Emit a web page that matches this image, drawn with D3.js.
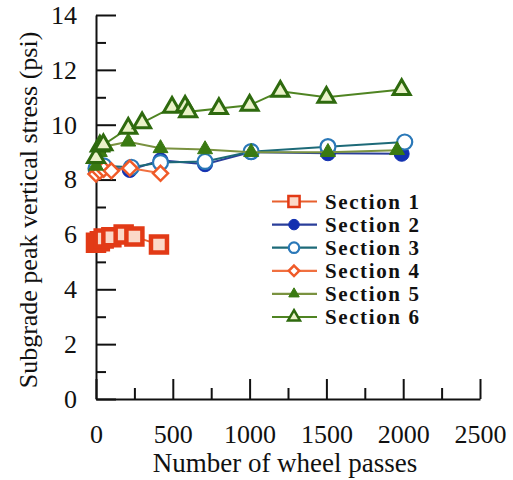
<!DOCTYPE html>
<html>
<head>
<meta charset="utf-8">
<script src="https://cdn.jsdelivr.net/npm/d3@7"></script>
<style>
  html, body { margin: 0; padding: 0; background: #fff; }
  svg { display: block; }
  text { font-family: "Liberation Serif", "Times New Roman", serif; fill: #111; }
</style>
</head>
<body>
<svg id="chart" width="513" height="480"></svg>
<script>
// ---- Data ----
const sectionNames = ["Section 1", "Section 2", "Section 3", "Section 4", "Section 5", "Section 6"];

const section1 = [[0, 5.7], [25, 5.75], [50, 5.85], [100, 5.9], [180, 6.0], [250, 5.92], [410, 5.63]];
const section2 = [[0, 8.3], [25, 8.4], [50, 8.48], [220, 8.35], [420, 8.7], [710, 8.56], [1010, 9.0], [1510, 8.96], [1990, 8.94]];
const section3 = [[0, 8.4], [50, 8.5], [230, 8.45], [420, 8.62], [710, 8.66], [1010, 9.02], [1510, 9.2], [2010, 9.37]];
const section4 = [[0, 8.2], [25, 8.3], [50, 8.38], [100, 8.32], [220, 8.42], [420, 8.23]];
const section5 = [[0, 8.5], [25, 9.0], [50, 9.2], [210, 9.38], [420, 9.14], [710, 9.1], [1010, 9.0], [1510, 9.0], [1960, 9.07]];
const section6 = [[0, 8.8], [25, 9.22], [48, 9.27], [210, 9.87], [300, 10.07], [495, 10.63], [580, 10.67], [600, 10.47], [800, 10.59], [1000, 10.71], [1200, 11.22], [1500, 11.0], [1990, 11.28]];

const xTickValues = [0, 500, 1000, 1500, 2000, 2500];
const xMinorTicks = [250, 750, 1250, 1750, 2250];
const yTickValues = [0, 2, 4, 6, 8, 10, 12, 14];
const yMinorTicks = [1, 3, 5, 7, 9, 11, 13];

const xTitle = "Number of wheel passes";
const yTitle = "Subgrade peak vertical stress (psi)";

// ---- Styles ----
const styles = [
  { marker: "square",   line: "#e8602e", stroke: "#e23a16", fill: "#fbd8c8", size: 16, sw: 4.5 },
  { marker: "circle",   line: "#2a3e9a", stroke: "#1230b0", fill: "#1230b0", size: 15, sw: 1 },
  { marker: "circle",   line: "#1d6a78", stroke: "#2a78b8", fill: "#ffffff", size: 15, sw: 2.2 },
  { marker: "diamond",  line: "#f07040", stroke: "#f05a28", fill: "#ffffff", size: 15, sw: 2.5 },
  { marker: "triangle", line: "#7a9240", stroke: "#3a7a12", fill: "#3a7a12", size: 15, sw: 1 },
  { marker: "triangle", line: "#4f8422", stroke: "#2e6a0e", fill: "#eaf2c8", size: 17, sw: 3 }
];
const allSeries = [section1, section2, section3, section4, section5, section6];

const svg = d3.select("#chart");
const x = d3.scaleLinear().domain([0, 2500]).range([96, 480]);
const y = d3.scaleLinear().domain([0, 14]).range([399, 15]);
const fmt = d3.format("d");

// ---- Axes ----
const gx = svg.append("g").attr("transform", `translate(0,${y(0)})`);
gx.call(d3.axisBottom(x).tickValues(xTickValues).tickFormat(fmt).tickSizeInner(-20).tickSizeOuter(0).tickPadding(25.5));
const gxm = svg.append("g").attr("transform", `translate(0,${y(0)})`);
gxm.call(d3.axisBottom(x).tickValues(xMinorTicks).tickSizeInner(-11).tickSizeOuter(0).tickFormat(""));
gxm.select(".domain").remove();

const gy = svg.append("g").attr("transform", `translate(${x(0)},0)`);
gy.call(d3.axisLeft(y).tickValues(yTickValues).tickFormat(fmt).tickSizeInner(-20).tickSizeOuter(0).tickPadding(19));
const gym = svg.append("g").attr("transform", `translate(${x(0)},0)`);
gym.call(d3.axisLeft(y).tickValues(yMinorTicks).tickSizeInner(-10).tickSizeOuter(0).tickFormat(""));
gym.select(".domain").remove();

[gx, gxm, gy, gym].forEach(g => {
  g.selectAll(".domain").attr("stroke", "#111").attr("stroke-width", 2);
  g.selectAll(".tick line").attr("stroke", "#111").attr("stroke-width", 2);
  g.selectAll("text").attr("font-family", "Liberation Serif, serif").attr("font-size", 26).attr("fill", "#111");
});

// ---- Titles ----
svg.append("text").attr("x", 285).attr("y", 472).attr("text-anchor", "middle")
  .attr("font-size", 27).text(xTitle);
svg.append("text").attr("transform", "translate(37,210) rotate(-90)").attr("text-anchor", "middle")
  .attr("font-size", 26).text(yTitle);

// ---- Marker helper ----
function markerPath(type, s) {
  if (type === "square") return d3.symbol(d3.symbolSquare, s * s)();
  if (type === "circle") return d3.symbol(d3.symbolCircle, Math.PI * (s / 2) * (s / 2))();
  if (type === "diamond") {
    const h = s / 2;
    return `M0,${-h}L${h},0L0,${h}L${-h},0Z`;
  }
  const h = s * Math.sqrt(3) / 2;
  return `M0,${-h * 2 / 3}L${s / 2},${h / 3}L${-s / 2},${h / 3}Z`;
}

// ---- Series ----
const line = d3.line().x(d => x(d[0])).y(d => y(d[1]));
allSeries.forEach((data, i) => {
  const st = styles[i];
  const g = svg.append("g");
  g.append("path").datum(data).attr("d", line)
    .attr("fill", "none").attr("stroke", st.line).attr("stroke-width", 2);
  g.selectAll("path.m").data(data).join("path").attr("class", "m")
    .attr("transform", d => `translate(${x(d[0])},${y(d[1])})`)
    .attr("d", markerPath(st.marker, st.size))
    .attr("fill", st.fill).attr("stroke", st.stroke).attr("stroke-width", st.sw);
});

// ---- Legend ----
const legend = svg.append("g");
sectionNames.forEach((name, i) => {
  const st = styles[i];
  const cy = 201.5 + i * 23.1;
  legend.append("line").attr("x1", 272).attr("x2", 317).attr("y1", cy).attr("y2", cy)
    .attr("stroke", st.line).attr("stroke-width", 2.2);
  legend.append("path").attr("transform", `translate(294,${cy})`)
    .attr("d", markerPath(st.marker, st.size * 0.7))
    .attr("fill", st.fill).attr("stroke", st.stroke).attr("stroke-width", Math.min(st.sw, 2.5));
  legend.append("text").attr("x", 325).attr("y", cy).attr("dy", "0.35em")
    .attr("font-size", 21).attr("letter-spacing", 1.6).attr("font-weight", "bold").text(name);
});
</script>
</body>
</html>
